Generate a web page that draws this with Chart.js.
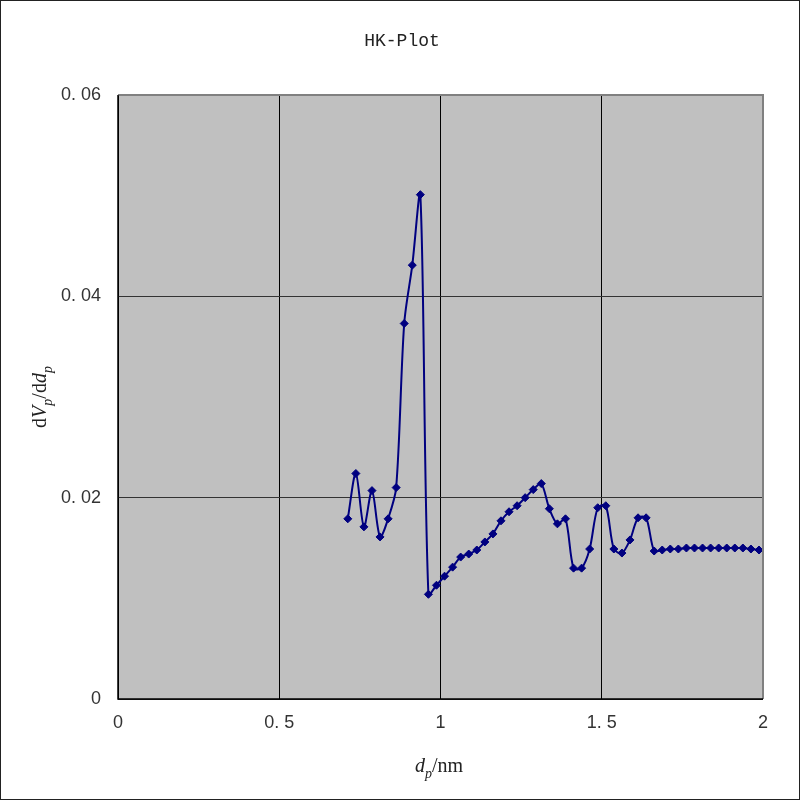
<!DOCTYPE html>
<html>
<head>
<meta charset="utf-8">
<script src="https://cdn.jsdelivr.net/npm/chart.js@4.4.1/dist/chart.umd.min.js"></script>
<style>
  html, body { margin:0; padding:0; background:#fff; }
  #wrap { width:800px; height:800px; position:relative; }
</style>
</head>
<body>
<div id="wrap"><canvas id="hk" width="800" height="800"></canvas></div>
<script>
// pore width d_p (nm)
const poreWidth = [
  0.7125, 0.7375, 0.7625, 0.7875, 0.8125, 0.8375, 0.8625, 0.8875, 0.9125, 0.9375,
  0.9625, 0.9875, 1.0125, 1.0375, 1.0625, 1.0875, 1.1125, 1.1375, 1.1625, 1.1875,
  1.2125, 1.2375, 1.2625, 1.2875, 1.3125, 1.3375, 1.3625, 1.3875, 1.4125, 1.4375,
  1.4625, 1.4875, 1.5125, 1.5375, 1.5625, 1.5875, 1.6125, 1.6375, 1.6625, 1.6875,
  1.7125, 1.7375, 1.7625, 1.7875, 1.8125, 1.8375, 1.8625, 1.8875, 1.9125, 1.9375,
  1.9625, 1.9875
];
// dVp/ddp
const dVdd = [
  0.0179, 0.0224, 0.0171, 0.0207, 0.0161, 0.0179, 0.0210, 0.0373, 0.0431, 0.0501,
  0.0104, 0.0113, 0.0122, 0.0131, 0.0141, 0.0144, 0.0148, 0.0156, 0.0164, 0.0177,
  0.0186, 0.0192, 0.0200, 0.0208, 0.0214, 0.0189, 0.0174, 0.0179, 0.0130, 0.0130,
  0.0149, 0.0190, 0.0192, 0.0149, 0.0145, 0.0158, 0.0180, 0.0180, 0.0147, 0.0148,
  0.0149, 0.0149, 0.0150, 0.0150, 0.0150, 0.0150, 0.0150, 0.0150, 0.0150, 0.0150,
  0.0149, 0.0148
];
const xTicks = [0, 0.5, 1, 1.5, 2];
const yTicks = [0, 0.02, 0.04, 0.06];

const points = poreWidth.map((x, i) => ({x, y: dVdd[i]}));

function tickText(v, digits){
  if (Math.abs(v) < 1e-9) return '0';
  if (Math.abs(v - Math.round(v)) < 1e-9) return String(Math.round(v));
  return v.toFixed(digits).replace('.', '. ');
}

// draw a run of text pieces: [text, italic, subscript]
function drawPieces(ctx, pieces, size){
  const parts = pieces.map(([t, it, sub]) => {
    const s = sub ? size * 0.7 : size;
    const font = (it ? 'italic ' : '') + s + 'px "Liberation Serif", "Times New Roman", serif';
    ctx.font = font;
    return {t, font, sub, w: ctx.measureText(t).width};
  });
  const total = parts.reduce((a, p) => a + p.w, 0);
  let x = -total / 2;
  ctx.textAlign = 'left';
  ctx.textBaseline = 'alphabetic';
  parts.forEach(p => {
    ctx.font = p.font;
    ctx.fillText(p.t, x, p.sub ? size * 0.28 : 0);
    x += p.w;
  });
}

const decor = {
  id: 'decor',
  beforeDraw(chart){
    const {ctx, chartArea: a} = chart;
    ctx.save();
    ctx.fillStyle = '#c0c0c0';
    ctx.fillRect(a.left, a.top, a.right - a.left, a.bottom - a.top);
    ctx.restore();
  },
  afterDraw(chart){
    const {ctx, chartArea: a} = chart;
    ctx.save();
    // grey frame on top/right of plot
    ctx.strokeStyle = '#808080';
    ctx.lineWidth = 2;
    ctx.beginPath();
    ctx.moveTo(a.left, a.top); ctx.lineTo(a.right, a.top); ctx.lineTo(a.right, a.bottom);
    ctx.stroke();
    // black axes
    ctx.strokeStyle = '#000';
    ctx.lineWidth = 1.5;
    ctx.beginPath();
    ctx.moveTo(a.left, a.top); ctx.lineTo(a.left, a.bottom); ctx.lineTo(a.right, a.bottom);
    ctx.stroke();
    // outer border
    ctx.strokeStyle = '#222';
    ctx.lineWidth = 1;
    ctx.strokeRect(0.5, 0.5, 799, 799);

    // title
    ctx.fillStyle = '#222';
    ctx.font = '18px "Liberation Mono", "DejaVu Sans Mono", monospace';
    ctx.textAlign = 'center';
    ctx.textBaseline = 'middle';
    ctx.fillText('HK-Plot', 402, 41);

    // x axis title
    ctx.save();
    ctx.translate(439, 772);
    drawPieces(ctx, [['d', true, false], ['p', true, true], ['/nm', false, false]], 20);
    ctx.restore();

    // y axis title
    ctx.save();
    ctx.translate(46, 397);
    ctx.rotate(-Math.PI / 2);
    drawPieces(ctx, [['d', false, false], ['V', true, false], ['p', true, true],
                     ['/d', false, false], ['d', true, false], ['p', true, true]], 20);
    ctx.restore();
    ctx.restore();
  }
};

new Chart(document.getElementById('hk'), {
  type: 'scatter',
  data: { datasets: [{
    data: points,
    showLine: true,
    borderColor: '#000080',
    backgroundColor: '#000080',
    borderWidth: 2,
    tension: 0.3,
    pointStyle: 'rectRot',
    pointRadius: 4,
    pointBorderWidth: 1,
    pointBorderColor: '#000080',
    clip: false
  }]},
  options: {
    responsive: false,
    animation: false,
    events: [],
    layout: { padding: { left: 0, top: 95, right: 37, bottom: 0 } },
    plugins: { legend: { display: false }, tooltip: { enabled: false }, title: { display: false } },
    scales: {
      x: {
        type: 'linear', min: 0, max: 2,
        afterBuildTicks: s => { s.ticks = xTicks.map(v => ({value: v})); },
        afterFit: s => { s.height = 101; },
        grid: { color: '#000', lineWidth: 1, drawTicks: false },
        border: { display: false },
        ticks: {
          padding: 13, color: '#333', maxRotation: 0, autoSkip: false,
          font: { family: '"Liberation Sans", Arial, sans-serif', size: 18 },
          callback: v => tickText(v, 1)
        }
      },
      y: {
        type: 'linear', min: 0, max: 0.06,
        afterBuildTicks: s => { s.ticks = yTicks.map(v => ({value: v})); },
        afterFit: s => { s.width = 118; },
        grid: { color: '#333', lineWidth: 1, drawTicks: false },
        border: { display: false },
        ticks: {
          padding: 17, color: '#333', autoSkip: false,
          font: { family: '"Liberation Sans", Arial, sans-serif', size: 18 },
          callback: v => tickText(v, 2)
        }
      }
    }
  },
  plugins: [decor]
});
</script>
</body>
</html>
